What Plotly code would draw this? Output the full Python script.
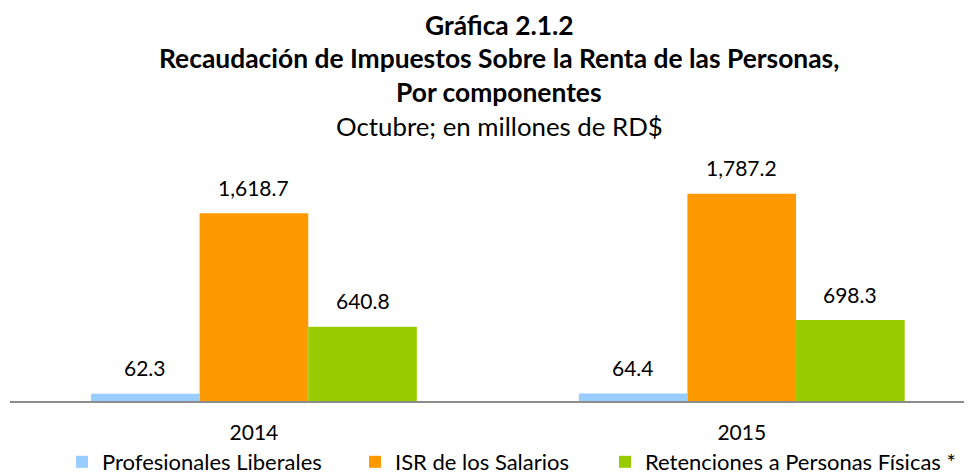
import plotly.graph_objects as go

# ---- data ----
years = ["2014", "2015"]
series_names = ["Profesionales Liberales", "ISR de los Salarios", "Retenciones a Personas Físicas *"]
profesionales = [62.3, 64.4]
isr_salarios = [1618.7, 1787.2]
retenciones = [640.8, 698.3]
colors = ["#99CCFF", "#FF9900", "#99CC00"]

title_lines = ["Gráfica 2.1.2",
               "Recaudación de Impuestos Sobre la Renta de las Personas,",
               "Por componentes"]
subtitle = "Octubre; en millones de RD$"

# ---- layout geometry ----
# the HTML body has a default 8px margin, so the figure starts at (8, 8) in the window
OFF = 8
W = 972 - OFF
H = 476 - OFF + 20          # a little taller than the window so the legend is not clipped
AXIS_Y = 401                # window pixel of the category axis line
ML, MR, MT = 10 - OFF, 0, 169 - OFF
MB = H - (AXIS_Y - OFF)
plot_w = W - ML - MR
plot_h = H - MT - MB
x_range = [-0.5, 1.472]
y_range = [0, 2000]
bargap = 0.332
px_per_cat = plot_w / (x_range[1] - x_range[0])
bar_px = (1 - bargap) / 3 * px_per_cat

FONT = "Lato"

def px_to_paper_y(py):
    # py: target pixel in the window
    return (H - MB - (py - OFF)) / plot_h

def px_to_paper_x(px):
    return ((px - OFF) - ML) / plot_w

fig = go.Figure()
all_series = [profesionales, isr_salarios, retenciones]
legend_ids = ["legend", "legend2", "legend3"]
for name, vals, col, lg in zip(series_names, all_series, colors, legend_ids):
    fig.add_trace(go.Bar(x=years, y=vals, name=name, marker=dict(color=col, line=dict(width=0)),
                         legend=lg, hoverinfo="x+y+name"))

annotations = []
for i, vals in enumerate(all_series):
    for j, v in enumerate(vals):
        annotations.append(dict(x=j, y=v, xref="x", yref="y", text=f"{v:,.1f}",
                                showarrow=False, xshift=(i - 1) * bar_px, yshift=26,
                                yanchor="middle", xanchor="center",
                                font=dict(family=FONT, size=21, color="#000000")))

title_y = [25, 58, 92]
for t, py in zip(title_lines, title_y):
    annotations.append(dict(x=px_to_paper_x(499), y=px_to_paper_y(py), xref="paper", yref="paper",
                            text=f"<b>{t}</b>", showarrow=False, xanchor="center", yanchor="middle",
                            font=dict(family=FONT, size=26.4, color="#000000")))
annotations.append(dict(x=px_to_paper_x(499), y=px_to_paper_y(126), xref="paper", yref="paper",
                        text=subtitle, showarrow=False, xanchor="center", yanchor="middle",
                        font=dict(family=FONT, size=25.8, color="#000000")))

legend_left_px = [62, 355, 605]
legend_layouts = {}
for lg, lx in zip(legend_ids, legend_left_px):
    legend_layouts[lg] = dict(orientation="h", x=px_to_paper_x(lx), xanchor="left",
                              y=px_to_paper_y(462), yanchor="middle",
                              font=dict(family=FONT, size=22, color="#000000"),
                              itemwidth=30, bgcolor="rgba(0,0,0,0)")

fig.update_layout(
    width=W, height=H,
    margin=dict(l=ML, r=MR, t=MT, b=MB, pad=0, autoexpand=False),
    paper_bgcolor="white", plot_bgcolor="white",
    barmode="group", bargap=bargap, bargroupgap=0,
    showlegend=True,
    xaxis=dict(type="category", range=x_range, showline=True, linecolor="#8C8C8C", linewidth=2,
               ticks="", showgrid=False, zeroline=False, ticklabelstandoff=12,
               tickfont=dict(family=FONT, size=21, color="#000000"), fixedrange=True),
    yaxis=dict(range=y_range, visible=False, showgrid=False, zeroline=False, fixedrange=True),
    annotations=annotations,
    font=dict(family=FONT),
    **legend_layouts,
)

fig.write_html("out.html")
